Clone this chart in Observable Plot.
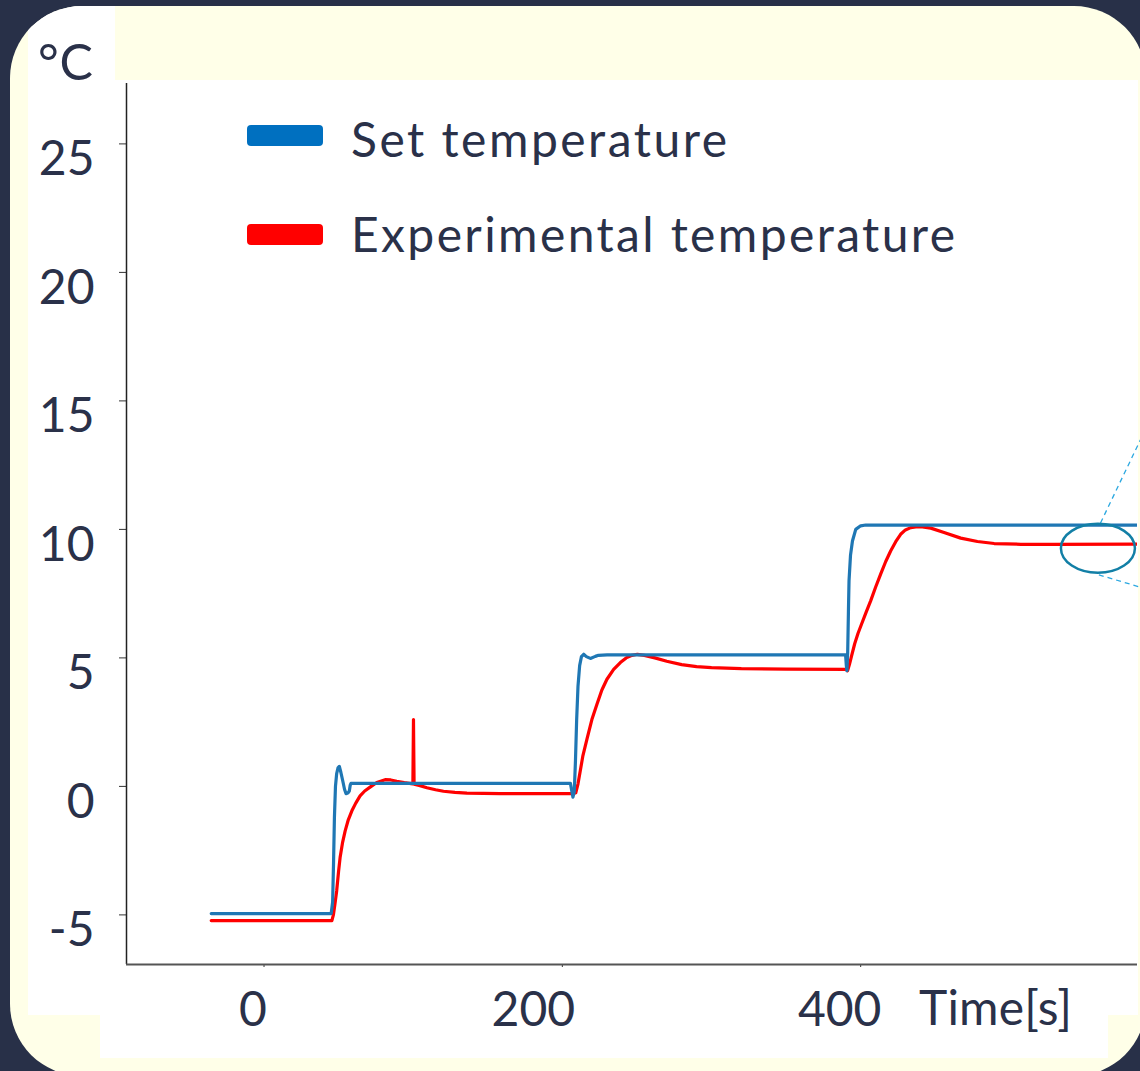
<!DOCTYPE html>
<html>
<head>
<meta charset="utf-8">
<script src="https://cdn.jsdelivr.net/npm/d3@7"></script>
<script src="https://cdn.jsdelivr.net/npm/@observablehq/plot@0.6"></script>
<style>
  html, body { margin: 0; padding: 0; width: 1140px; height: 1071px; overflow: hidden; background: #283048; }
  #panel { position: absolute; left: 10px; top: 6px; width: 1136px; height: 1070px; border-radius: 72px; background: #FFFFE8; overflow: hidden; }
  .w { position: absolute; background: #ffffff; }
  #chart { position: absolute; left: 0; top: 0; }
</style>
</head>
<body>
<div id="panel">
  <div class="w" style="left:18px;top:0;width:87px;height:1009px"></div>
  <div class="w" style="left:18px;top:74px;width:1110px;height:935px"></div>
  <div class="w" style="left:90px;top:1009px;width:1008px;height:43px"></div>
</div>
<div id="chart"></div>
<script>
// ---------- data ----------
const setTime = [-35.4, 45.0, 46.0, 46.6, 47.2, 47.9, 48.7, 49.6, 50.5, 51.5, 52.8, 54.0, 55.0, 56.2, 57.2, 57.8, 58.3, 100, 150, 205.4,
  206.4, 207.1, 208.0, 208.8, 209.6, 210.5, 211.6, 212.8, 214.3, 216.1, 218.8, 222.1, 224.2, 230, 300, 389.9,
  390.4, 390.8, 391.3, 391.8, 392.2, 393.2, 394.5, 396.7, 400, 403.4, 500, 585.9];
const setTemp = [-4.95, -4.95, -4.5, -3.0, -1.2, 0.0, 0.5, 0.72, 0.78, 0.55, 0.21, -0.12, -0.28, -0.26, -0.18, 0.05, 0.12, 0.12, 0.12, 0.12,
  -0.2, -0.42, -0.2, 1.0, 2.6, 3.9, 4.7, 5.05, 5.14, 5.05, 4.98, 5.06, 5.1, 5.12, 5.12, 5.12,
  4.7, 4.5, 5.2, 6.8, 8.0, 9.0, 9.55, 10.0, 10.14, 10.17, 10.17, 10.17];

const expTime = [-35.4, 45.5, 46.5, 47.5, 48.7, 50.0, 51.0, 52.6, 54.4, 56.5, 58.9, 61.5, 64.4, 67.5, 71.1, 75.6, 81.2, 85.0, 89.0, 94.0, 99.8,
  100.2, 100.6, 104.0, 109.2, 115.0, 120.3, 128.0, 136.0, 158.4, 190, 207.5,
  209.0, 210.5, 212.0, 213.8, 216.5, 219.8, 223.2, 226.5, 229.9, 234.4, 238.9, 242.8, 246.7, 250.3, 255.0, 262.0, 270.0, 280.0, 290.0, 300.0, 320.0, 350.0, 390.3,
  391.2, 392.5, 394.0, 396.0, 398.2, 400.5, 403.5, 406.7, 410.0, 413.4, 416.8, 420.1, 423.5, 426.8, 430.0, 433.6, 437.0, 440.3, 447.0, 455.9, 467.1, 478.3, 489.5, 507.4, 529.7, 585.6];
const expTemp = [-5.22, -5.22, -5.0, -4.6, -4.07, -3.3, -2.77, -2.2, -1.73, -1.3, -0.95, -0.65, -0.37, -0.18, -0.03, 0.15, 0.26, 0.25, 0.2, 0.15, 0.1,
  2.6, 0.09, 0.04, -0.05, -0.13, -0.19, -0.23, -0.26, -0.28, -0.28, -0.28,
  -0.25, 0.1, 0.6, 1.2, 1.84, 2.6, 3.2, 3.75, 4.17, 4.55, 4.82, 5.0, 5.1, 5.14, 5.1, 5.0, 4.87, 4.74, 4.66, 4.62, 4.58, 4.56, 4.55,
  4.5, 4.75, 5.1, 5.55, 5.95, 6.3, 6.75, 7.22, 7.75, 8.26, 8.75, 9.16, 9.52, 9.81, 9.98, 10.07, 10.1, 10.11, 10.05, 9.88, 9.66, 9.53, 9.45, 9.42, 9.42, 9.43];

const seriesNames = ["Set temperature", "Experimental temperature"];
const seriesColors = ["#1f77b4", "#ff0000"];
const swatchColors = ["#0070C0", "#FF0000"];

const xTicks = [0, 200, 400];
const yTicks = [-5, 0, 5, 10, 15, 20, 25];
const xDomain = [-92.2, 585.6];
const yDomain = [-6.93, 27.35];
const xUnitLabel = "Time[s]";
const yUnitLabel = "°C";

// callout (circled region + dashed leader lines to an off-chart zoom)
const calloutCenter = [559.4, 9.25];
const leaderX1 = [560.8, 559.7];
const leaderY1 = [10.25, 8.23];
const leaderX2 = [587.6, 587.6];
const leaderY2 = [13.49, 7.75];

// ---------- build ----------
const setData = setTime.map((t, i) => ({t, v: setTemp[i]}));
const expData = expTime.map((t, i) => ({t, v: expTemp[i]}));
const leaders = leaderX1.map((x, i) => ({x1: x, y1: leaderY1[i], x2: leaderX2[i], y2: leaderY2[i]}));

const FONT = "Lato, 'Open Sans', sans-serif";
const INK = "#2A3149";
const fmt = d => String(d);
const xLabelShift = [-11, -29, -21]; // horizontal offset of each x tick label, as in the reference

const chart = Plot.plot({
  width: 1140,
  height: 1071,
  marginLeft: 126,
  marginRight: 3,
  marginTop: 83,
  marginBottom: 107,
  style: {background: "transparent", fontFamily: FONT, fontSize: "48px", color: INK, overflow: "visible"},
  x: {domain: xDomain},
  y: {domain: yDomain},
  marks: [
    // tick marks
    Plot.axisY({ticks: yTicks, tickSize: 7, stroke: "#333", tickFormat: () => "", label: null}),
    Plot.axisX({ticks: xTicks, tickSize: 3, stroke: "#333", tickFormat: () => "", label: null}),
    // tick labels (offset like the reference)
    Plot.axisY({ticks: yTicks, tickSize: 0, tickPadding: 32, dy: 16, fill: INK, label: null, tickFormat: fmt}),
    ...xTicks.map((t, i) => Plot.axisX({ticks: [t], tickSize: 0, tickPadding: 27, dx: xLabelShift[i], fill: INK, label: null, tickFormat: fmt})),
    Plot.ruleX([xDomain[0]], {stroke: "#222", strokeWidth: 1.5}),
    Plot.ruleY([yDomain[0]], {stroke: "#555", strokeWidth: 2}),
    Plot.line(expData, {x: "t", y: "v", stroke: seriesColors[1], strokeWidth: 3.2, clip: true}),
    Plot.line(setData, {x: "t", y: "v", stroke: seriesColors[0], strokeWidth: 3.2, clip: true}),
    Plot.link(leaders, {x1: "x1", y1: "y1", x2: "x2", y2: "y2", stroke: "#2BA8E0", strokeWidth: 1.3, strokeDasharray: "5,4"})
  ]
});

document.getElementById("chart").appendChild(chart);

const svg = d3.select(chart);
const sx = chart.scale("x"), sy = chart.scale("y");

// ellipse callout
svg.append("ellipse")
  .attr("cx", sx.apply(calloutCenter[0]))
  .attr("cy", sy.apply(calloutCenter[1]))
  .attr("rx", 37).attr("ry", 24.5)
  .attr("fill", "none").attr("stroke", "#127FA6").attr("stroke-width", 2.5);

// legend
const legendRows = [125, 224];
const legendBaselines = [156.7, 251.7];
const legendWidths = [376, 604];
const g = svg.append("g").attr("text-anchor", "start");
seriesNames.forEach((name, i) => {
  g.append("rect").attr("x", 247).attr("y", legendRows[i]).attr("width", 76).attr("height", 21).attr("rx", 4)
    .attr("fill", swatchColors[i]);
  g.append("text").attr("x", 351).attr("y", legendBaselines[i]).attr("fill", INK)
    .attr("font-family", FONT).attr("font-size", 48)
    .attr("textLength", legendWidths[i]).attr("lengthAdjust", "spacing")
    .text(name);
});

// unit labels
g.append("text").attr("x", 38).attr("y", 80).attr("fill", INK).attr("font-family", FONT).attr("font-size", 50)
  .attr("textLength", 55).attr("lengthAdjust", "spacing").text(yUnitLabel);
g.append("text").attr("x", 919).attr("y", 1025).attr("fill", INK).attr("font-family", FONT).attr("font-size", 48)
  .attr("textLength", 153).attr("lengthAdjust", "spacing").text(xUnitLabel);
</script>
</body>
</html>
